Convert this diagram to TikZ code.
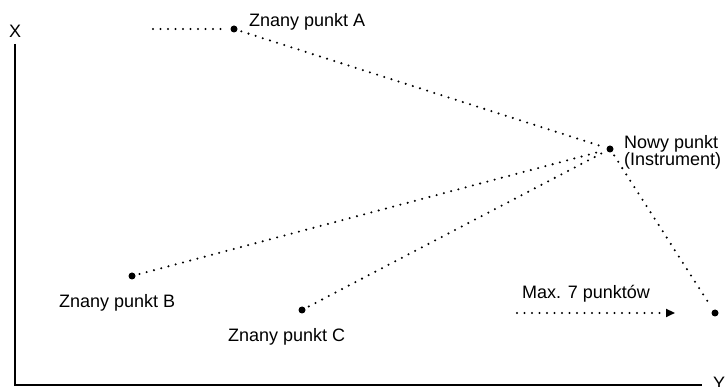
\documentclass[tikz,border=0pt]{standalone}
\usepackage{fontspec}
\setmainfont{Liberation Sans}
\usetikzlibrary{arrows.meta}
\newcommand\lbfont{\fontsize{18}{17}\selectfont\lineskiplimit=-8pt}
\tikzset{
  pt/.style={circle,fill,inner sep=0pt,minimum size=7pt},
  sight/.style={line width=2.3pt,line cap=round,dash pattern=on 0pt off 7.5pt,shorten >=4pt,shorten <=4pt},
  lbl/.style={inner sep=0pt,anchor=base west,font=\lbfont},
}
\begin{document}
\begin{tikzpicture}[x=1pt,y=-1pt,>={Triangle[length=9pt,width=8pt]}]
\useasboundingbox (0,0) rectangle (726,387);
\coordinate (O) at (15,385);
\coordinate (Xend) at (15,44);
\coordinate (Yend) at (702,385);
\draw[line width=2pt] (Xend) -- (O) -- (Yend);
\node[lbl] (xlbl) at (9,38) {X};
\node[lbl] (ylbl) at (713,390) {Y};

\node[pt] (A) at (234,29) {};
\node[pt] (N) at (610,149) {};
\node[pt] (B) at (132,276) {};
\node[pt] (C) at (302,310) {};
\node[pt] (F) at (715,313) {};
\coordinate (Alead) at (153,29);
\draw[sight,shorten <=0pt] (Alead) -- (A);
\draw[sight] (A) -- (N);
\draw[sight] (B) -- (N);
\draw[sight] (C) -- (N);
\draw[sight] (N) -- (F);

\coordinate (maxs) at (517,313);
\coordinate (maxe) at (675,313);
\draw[sight,->,shorten <=0pt,shorten >=0pt] (maxs) -- (maxe);

\node[lbl] (Albl) at (249,27) {Znany punkt A};
\node[lbl] (Blbl) at (59,308) {Znany punkt B};
\node[lbl] (Clbl) at (228,342) {Znany punkt C};
\node[lbl,anchor=north west,align=left] (Nlbl) at (624,135) {Nowy punkt\\(Instrument)};
\node[lbl] (maxlbl) at (522,299) {Max. 7 punktów};
\end{tikzpicture}
\end{document}
